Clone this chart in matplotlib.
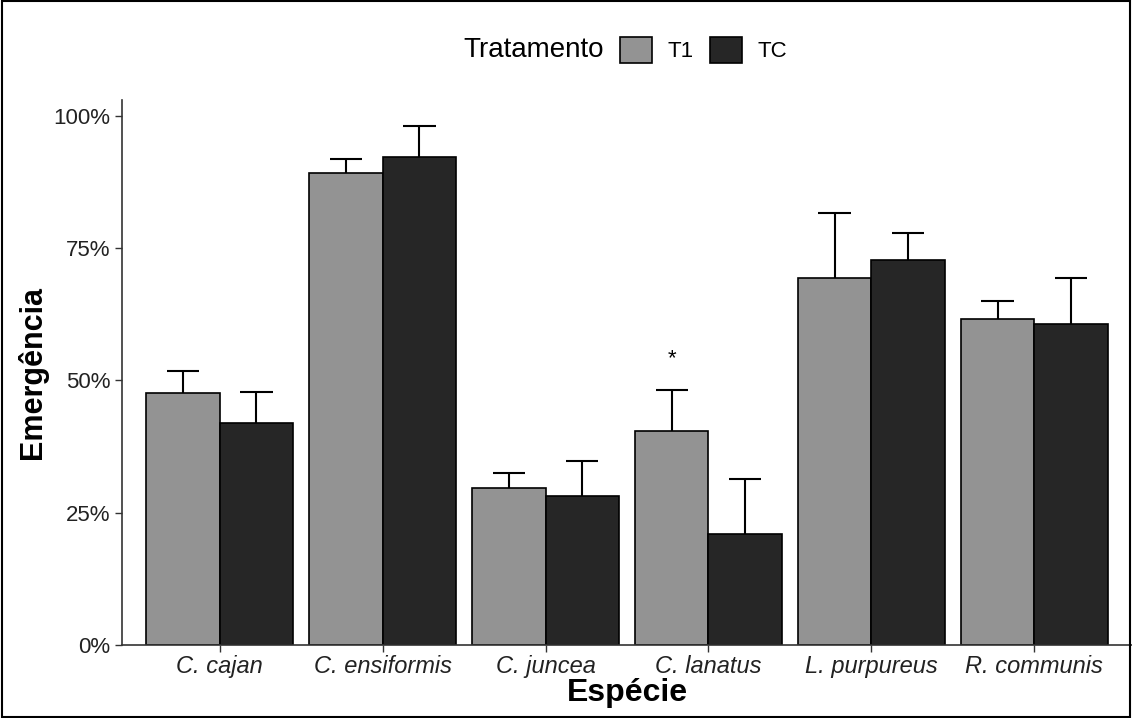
import numpy as np
import matplotlib
matplotlib.use('Agg')
import matplotlib.pyplot as plt
from matplotlib.patches import Patch, Rectangle

plt.rcParams['font.family'] = ['Liberation Sans', 'DejaVu Sans']

# Emergence (%) per species and treatment, with upper standard error
especies = ['C. cajan', 'C. ensiformis', 'C. juncea', 'C. lanatus', 'L. purpureus', 'R. communis']
t1 = [47.6, 89.2, 29.6, 40.5, 69.4, 61.6]
t1_se = [4.1, 2.6, 3.0, 7.6, 12.2, 3.4]
tc = [42.0, 92.2, 28.2, 20.9, 72.8, 60.6]
tc_se = [5.9, 5.9, 6.6, 10.5, 5.0, 8.8]
signif = ['', '', '', '*', '', '']

cor_t1 = '#939393'
cor_tc = '#262626'

fig = plt.figure(figsize=(11.32, 7.18), dpi=100)
ax = fig.add_axes([122 / 1132, 1 - 645 / 718, 1 - 122 / 1132, (645 - 100) / 718])

x = np.arange(len(especies))
w = 0.45
cap = 0.1

ax.bar(x - w / 2, t1, w, color=cor_t1, edgecolor='black', linewidth=1.2, zorder=2)
ax.bar(x + w / 2, tc, w, color=cor_tc, edgecolor='black', linewidth=1.2, zorder=2)

# upper error bars only (lower half hidden behind the bars)
for pos, val, se in [(x - w / 2, t1, t1_se), (x + w / 2, tc, tc_se)]:
    top = np.array(val) + np.array(se)
    ax.vlines(pos, val, top, color='black', linewidth=1.5, zorder=1)
    ax.hlines(top, pos - cap, pos + cap, color='black', linewidth=1.5, zorder=1)

for i, s in enumerate(signif):
    if s:
        ax.text(x[i] - w / 2, t1[i] + t1_se[i] + 6, s, ha='center', va='center',
                fontsize=16)

ax.set_xlim(-0.6, len(especies) - 0.4)
ax.set_ylim(0, 103)
ax.set_yticks([0, 25, 50, 75, 100])
ax.set_yticklabels(['0%', '25%', '50%', '75%', '100%'], fontsize=16, color='#222222')
ax.set_xticks(x)
ax.set_xticklabels(especies, fontsize=17, style='italic', color='#222222')
ax.tick_params(axis='both', length=5, width=1, color='#333333')
ax.tick_params(axis='x', pad=2)

for side in ['top', 'right']:
    ax.spines[side].set_visible(False)
for side in ['left', 'bottom']:
    ax.spines[side].set_color('#333333')
    ax.spines[side].set_linewidth(1.2)

ax.set_xlabel('Espécie', fontsize=23, fontweight='bold', labelpad=0)
ax.set_ylabel('Emergência', fontsize=22, fontweight='bold', labelpad=4)

# legend on top: title on the left, keys to its right
fig.text(463 / 1132, 1 - 50 / 718, 'Tratamento', ha='left', va='center', fontsize=20)
handles = [Patch(facecolor=cor_t1, edgecolor='black', linewidth=1.2),
           Patch(facecolor=cor_tc, edgecolor='black', linewidth=1.2)]
fig.legend(handles, ['T1', 'TC'], loc='center left',
           bbox_to_anchor=(620 / 1132, 1 - 50 / 718), ncol=2, frameon=False,
           fontsize=16, handlelength=1.44, handleheight=1.44, handletextpad=0.72,
           columnspacing=0.7, borderpad=0, borderaxespad=0)

# outer frame
fig.patches.append(Rectangle((0.002, 0.002), 0.996, 0.996, transform=fig.transFigure,
                             fill=False, edgecolor='black', linewidth=1.5))

fig.savefig('out.png', dpi=100)
